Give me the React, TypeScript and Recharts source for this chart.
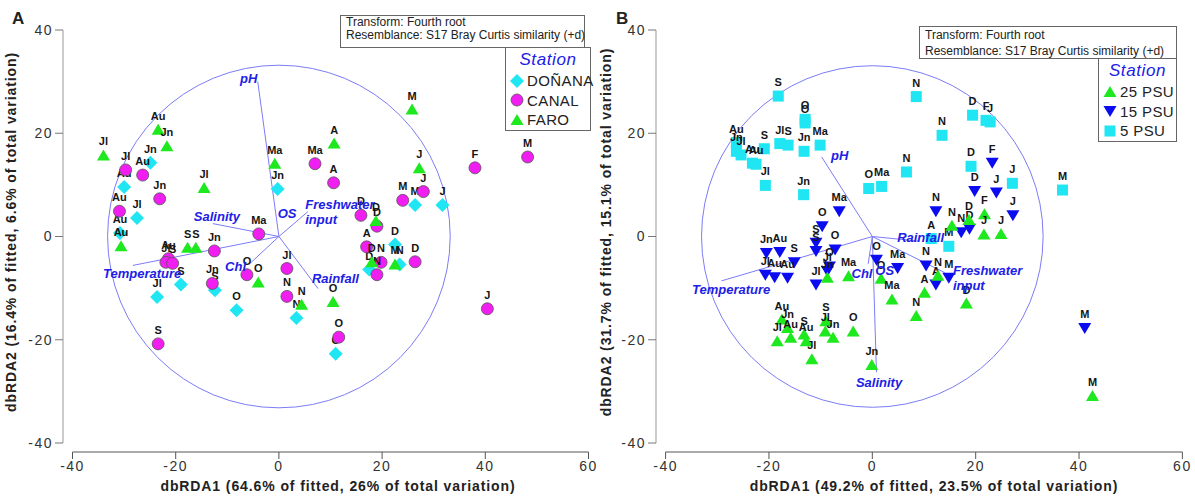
import React from 'react';
import { ScatterChart, Scatter, XAxis, YAxis, ReferenceDot, ReferenceLine } from 'recharts';

const FONT = '"Liberation Sans", Arial, sans-serif';
const CYAN = '#1fe6f2';
const MAGENTA = '#f01ef0';
const GREEN = '#1ee81e';
const BLUE = '#0b0bf0';
const VEC = '#7c7cf7';
const VEC_TEXT = '#2020e6';

const xTicks = [-40, -20, 0, 20, 40, 60];
const yTicks = [-40, -20, 0, 20, 40];

// Panel A : stations
const donana = [
  { x: -24.9, y: 14.3, m: 'Jn' }, { x: -30.0, y: 9.6, m: 'Au' }, { x: -27.5, y: 3.6, m: 'Jl' },
  { x: -30.8, y: 0.7, m: 'Au' }, { x: -0.25, y: 9.2, m: 'Jn' }, { x: -19.0, y: -9.3, m: 'S' },
  { x: -23.6, y: -11.7, m: 'Jl' }, { x: -12.4, y: -10.4, m: 'S' }, { x: -8.2, y: -14.3, m: 'O' },
  { x: 3.4, y: -15.8, m: 'N' }, { x: 26.4, y: 6.1, m: 'M' }, { x: 31.7, y: 6.1, m: 'J' },
  { x: 22.5, y: -1.55, m: 'D' }, { x: 17.5, y: -6.4, m: 'D' }, { x: 23.4, y: -5.4, m: 'N' },
  { x: 11.0, y: -22.7, m: 'O' },
];
const canal = [
  { x: -29.7, y: 12.9, m: 'Jl' }, { x: -26.4, y: 11.9, m: 'Au' }, { x: -23.1, y: 7.3, m: 'Jn' },
  { x: -30.9, y: 4.9, m: 'Au' }, { x: 7.0, y: 14.1, m: 'Ma' }, { x: 10.6, y: 10.4, m: 'A' },
  { x: 28.0, y: 8.7, m: 'J' }, { x: 24.0, y: 7.0, m: 'M' }, { x: 38.0, y: 13.3, m: 'F' },
  { x: 48.2, y: 15.4, m: 'M' }, { x: 15.9, y: 4.1, m: 'D' }, { x: 19.0, y: 2.0, m: 'D' },
  { x: 17.0, y: -2.0, m: 'A' }, { x: 19.8, y: -5.0, m: 'N' }, { x: 19.0, y: -7.4, m: 'N' },
  { x: 26.4, y: -4.9, m: 'D' }, { x: -21.4, y: -4.3, m: 'Au' }, { x: -21.9, y: -5.0, m: 'Jl' },
  { x: -20.6, y: -5.2, m: 'S' }, { x: -12.5, y: -2.8, m: 'Jn' }, { x: -12.9, y: -9.1, m: 'Jn' },
  { x: -3.9, y: 0.5, m: 'Ma' }, { x: -6.2, y: -7.4, m: 'O' }, { x: 1.55, y: -6.2, m: 'Jl' },
  { x: 1.55, y: -11.6, m: 'N' }, { x: 11.6, y: -19.5, m: 'O' }, { x: -23.4, y: -20.8, m: 'S' },
  { x: 40.4, y: -14.0, m: 'J' },
];
const faro = [
  { x: -23.4, y: 20.7, m: 'Au' }, { x: -21.7, y: 17.5, m: 'Jn' }, { x: -34.0, y: 15.7, m: 'Jl' },
  { x: -14.5, y: 9.4, m: 'Jl' }, { x: -0.8, y: 14.1, m: 'Ma' }, { x: -30.6, y: -1.9, m: 'Au' },
  { x: -17.7, y: -2.2, m: 'S' }, { x: -16.1, y: -2.2, m: 'S' }, { x: -4.0, y: -8.9, m: 'O' },
  { x: 4.4, y: -13.2, m: 'N' }, { x: 25.8, y: 24.6, m: 'M' }, { x: 10.7, y: 18.0, m: 'A' },
  { x: 27.2, y: 13.2, m: 'J' }, { x: 18.8, y: 3.0, m: 'D' }, { x: 18.0, y: -5.0, m: 'D' },
  { x: 22.5, y: -5.4, m: 'M' }, { x: 10.5, y: -12.7, m: 'O' },
];

// Panel B : salinity groups
const psu25 = [
  { x: 21.7, y: 4.3, m: 'F' }, { x: 18.7, y: 3.2, m: 'D' }, { x: 15.4, y: 2.1, m: 'N' },
  { x: 21.6, y: 0.4, m: 'J' }, { x: 24.9, y: 0.5, m: 'J' }, { x: 12.7, y: -7.6, m: 'N' },
  { x: 10.1, y: -10.9, m: 'A' }, { x: 18.2, y: -13.0, m: 'D' }, { x: 8.5, y: -15.4, m: 'N' },
  { x: 42.6, y: -30.9, m: 'M' }, { x: -8.7, y: -8.0, m: 'Jn' }, { x: -4.6, y: -7.7, m: 'Ma' },
  { x: 1.7, y: -8.2, m: 'O' }, { x: 3.8, y: -12.2, m: 'Ma' }, { x: -17.5, y: -16.1, m: 'Au' },
  { x: -16.4, y: -17.7, m: 'Jn' }, { x: -15.8, y: -19.6, m: 'Au' }, { x: -18.4, y: -20.3, m: 'Jl' },
  { x: -13.2, y: -19.0, m: 'S' }, { x: -12.8, y: -20.3, m: 'Au' }, { x: -11.7, y: -23.8, m: 'Jl' },
  { x: -9.0, y: -16.4, m: 'S' }, { x: -9.1, y: -18.4, m: 'Jl' }, { x: -7.6, y: -19.6, m: 'Jn' },
  { x: -3.7, y: -18.4, m: 'O' }, { x: -0.1, y: -24.9, m: 'Jn' },
];
const psu15 = [
  { x: -6.4, y: 4.9, m: 'Ma' }, { x: 23.2, y: 14.3, m: 'F' }, { x: 19.8, y: 8.8, m: 'D' },
  { x: 24.0, y: 8.5, m: 'J' }, { x: 27.2, y: 4.1, m: 'J' }, { x: 12.3, y: 4.9, m: 'N' },
  { x: 18.8, y: 1.5, m: 'D' }, { x: 17.2, y: 0.8, m: 'N' }, { x: 10.4, y: -5.6, m: 'N' },
  { x: 14.8, y: -8.0, m: 'M' }, { x: 12.3, y: -9.3, m: 'A' }, { x: 41.1, y: -17.7, m: 'M' },
  { x: 4.9, y: -6.1, m: 'Ma' }, { x: 0.8, y: -4.5, m: 'O' }, { x: -9.7, y: 2.0, m: 'O' },
  { x: -10.9, y: -1.2, m: 'S' }, { x: -10.9, y: -2.8, m: 'S' }, { x: -7.2, y: -2.5, m: 'O' },
  { x: -20.5, y: -3.2, m: 'Jn' }, { x: -17.9, y: -3.0, m: 'Au' }, { x: -15.1, y: -5.0, m: 'S' },
  { x: -20.7, y: -7.4, m: 'Jl' }, { x: -18.9, y: -7.9, m: 'Au' }, { x: -16.4, y: -8.0, m: 'Au' },
  { x: -8.7, y: -6.7, m: 'Jl' }, { x: -8.3, y: -5.8, m: 'O' }, { x: -10.9, y: -9.3, m: 'Jl' },
];
const psu5 = [
  { x: -18.2, y: 27.2, m: 'S' }, { x: -13.0, y: 22.7, m: 'O' }, { x: -13.0, y: 22.0, m: 'O' },
  { x: -17.9, y: 18.0, m: 'Jl' }, { x: -16.3, y: 17.7, m: 'S' }, { x: -13.2, y: 16.5, m: 'Jn' },
  { x: -10.1, y: 17.7, m: 'Ma' }, { x: -20.9, y: 17.0, m: 'S' }, { x: -26.3, y: 18.2, m: 'Au' },
  { x: -26.3, y: 16.5, m: 'Jn' }, { x: -25.4, y: 15.8, m: 'Jl' }, { x: -22.5, y: 14.0, m: 'Au' },
  { x: -23.2, y: 14.2, m: 'Au' }, { x: -20.7, y: 9.9, m: 'Jl' }, { x: -13.3, y: 8.1, m: 'Jn' },
  { x: -0.7, y: 9.3, m: 'O' }, { x: 1.8, y: 9.7, m: 'Ma' }, { x: 6.6, y: 12.5, m: 'N' },
  { x: 8.5, y: 27.1, m: 'N' }, { x: 19.4, y: 23.5, m: 'D' }, { x: 22.0, y: 22.5, m: 'F' },
  { x: 22.8, y: 22.2, m: 'J' }, { x: 13.5, y: 19.6, m: 'N' }, { x: 19.1, y: 13.6, m: 'D' },
  { x: 27.1, y: 10.3, m: 'J' }, { x: 36.8, y: 9.0, m: 'M' }, { x: 11.4, y: -0.4, m: 'A' },
  { x: 14.8, y: -1.9, m: 'M' },
];

// environmental vectors (end points) and their labels
const vectorsA = [
  { x: -4.1, y: 30.0 }, { x: -12.8, y: 2.5 }, { x: -28.3, y: -5.6 },
  { x: -5.8, y: -5.4 }, { x: 5.6, y: 4.8 }, { x: 7.6, y: -10.1 },
];
const vecLabelsA = [
  { x: -5.85, y: 30.7, t: 'pH', a: 'middle' },
  { x: -12.0, y: 3.8, t: 'Salinity', a: 'middle' },
  { x: -26.5, y: -7.2, t: 'Temperature', a: 'middle' },
  { x: -8.4, y: -5.75, t: 'Chl', a: 'middle' },
  { x: 1.6, y: 4.5, t: 'OS', a: 'middle' },
  { x: 5.1, y: 6.2, t: 'Freshwater', t2: 'input', a: 'start' },
  { x: 6.4, y: -8.2, t: 'Rainfall', a: 'start' },
];
const vectorsB = [
  { x: -9.8, y: 15.4 }, { x: -29.2, y: -8.6 }, { x: 0.8, y: -26.3 },
  { x: -0.8, y: -5.3 }, { x: 9.0, y: -0.9 }, { x: 14.0, y: -7.0 },
];
const vecLabelsB = [
  { x: -6.3, y: 15.7, t: 'pH', a: 'middle' },
  { x: -27.3, y: -10.3, t: 'Temperature', a: 'middle' },
  { x: 1.3, y: -28.2, t: 'Salinity', a: 'middle' },
  { x: -2.0, y: -7.2, t: 'Chl', a: 'middle' },
  { x: 2.4, y: -6.5, t: 'OS', a: 'middle' },
  { x: 4.8, y: -0.25, t: 'Rainfall', a: 'start' },
  { x: 15.6, y: -6.5, t: 'Freshwater', t2: 'input', a: 'start' },
];

const PX = 5.16; // pixels per data unit on both axes

const Tag = ({ cx, cy, m }: any) => (
  <text x={cx} y={cy - 10} textAnchor="middle" fontSize={11} fontWeight="bold" fill="#151515" fontFamily={FONT}>
    {m}
  </text>
);

const diamond = (p: any) => (
  <g>
    <path d={`M${p.cx},${p.cy - 7}L${p.cx + 7},${p.cy}L${p.cx},${p.cy + 7}L${p.cx - 7},${p.cy}Z`} fill={CYAN} />
    <Tag cx={p.cx} cy={p.cy} m={p.payload.m} />
  </g>
);
const circle = (p: any) => (
  <g>
    <circle cx={p.cx} cy={p.cy} r={6} fill={MAGENTA} stroke="#555" strokeWidth={0.8} />
    <Tag cx={p.cx} cy={p.cy} m={p.payload.m} />
  </g>
);
const triUp = (fill: string) => (p: any) => (
  <g>
    <path d={`M${p.cx},${p.cy - 6}L${p.cx + 6.5},${p.cy + 5}L${p.cx - 6.5},${p.cy + 5}Z`} fill={fill} />
    <Tag cx={p.cx} cy={p.cy} m={p.payload.m} />
  </g>
);
const triDown = (p: any) => (
  <g>
    <path d={`M${p.cx - 6.5},${p.cy - 5}L${p.cx + 6.5},${p.cy - 5}L${p.cx},${p.cy + 6}Z`} fill={BLUE} />
    <Tag cx={p.cx} cy={p.cy} m={p.payload.m} />
  </g>
);
const square = (p: any) => (
  <g>
    <rect x={p.cx - 5.5} y={p.cy - 5.5} width={11} height={11} fill={CYAN} />
    <Tag cx={p.cx} cy={p.cy} m={p.payload.m} />
  </g>
);
const vecText = (p: any) => {
  const d = p.payload;
  const style = { fontSize: 13, fontWeight: 'bold' as const, fontStyle: 'italic', fill: VEC_TEXT, fontFamily: FONT };
  return (
    <g>
      <text x={p.cx} y={p.cy + 4.5} textAnchor={d.a} style={style}>{d.t}</text>
      {d.t2 && <text x={p.cx} y={p.cy + 19.5} textAnchor={d.a} style={style}>{d.t2}</text>}
    </g>
  );
};

const tickStyle = { fontSize: 14, fill: '#333', fontFamily: FONT, letterSpacing: 1.5 };

interface PanelProps {
  left: number;
  width: number;
  yAxisWidth: number;
  padLeft: number;
  right: number;
  radius: number;
  series: { data: any[]; shape: any }[];
  vectors: { x: number; y: number }[];
  vecLabels: any[];
}

const Panel: React.FC<PanelProps> = ({ left, width, yAxisWidth, padLeft, right, radius, series, vectors, vecLabels }) => {
  const axisX = -40 - padLeft / PX;
  const axisY = -40 - 9 / PX;
  return (
    <div style={{ position: 'absolute', left, top: 0 }}>
      <ScatterChart width={width} height={497} margin={{ top: 30, right, bottom: 0, left: 0 }}>
        <XAxis type="number" dataKey="x" domain={[-40, 60]} ticks={xTicks} padding={{ left: padLeft, right: 0 }}
          height={45} axisLine={false} tickSize={7} tickLine={{ stroke: '#555' }} tick={tickStyle} allowDataOverflow />
        <YAxis type="number" dataKey="y" domain={[-40, 40]} ticks={yTicks} padding={{ top: 0, bottom: 9 }}
          width={yAxisWidth} axisLine={false} tickSize={8} tickLine={{ stroke: '#777' }} tick={tickStyle} allowDataOverflow />
        <ReferenceLine segment={[{ x: -40, y: axisY }, { x: 60, y: axisY }]} stroke="#555" ifOverflow="visible" />
        <ReferenceLine segment={[{ x: axisX, y: -40 }, { x: axisX, y: 40 }]} stroke="#999" ifOverflow="visible" />
        <ReferenceDot x={0} y={0} r={radius * PX} fill="none" stroke={VEC} strokeWidth={1} />
        {vectors.map((v, i) => (
          <ReferenceLine key={i} segment={[{ x: 0, y: 0 }, { x: v.x, y: v.y }]} stroke={VEC} strokeWidth={1} />
        ))}
        {series.map((s, i) => (
          <Scatter key={i} data={s.data} shape={s.shape} isAnimationActive={false} />
        ))}
        <Scatter data={vecLabels} shape={vecText} isAnimationActive={false} />
      </ScatterChart>
    </div>
  );
};

const boxText: React.CSSProperties = { fontFamily: FONT, fontSize: 12, color: '#222', whiteSpace: 'nowrap' };

const InfoBox = ({ left, top, width, height, lh }: any) => (
  <div style={{ position: 'absolute', left, top, width, height, border: '1px solid #666', boxSizing: 'border-box', background: '#fff', padding: '0 0 0 5px', ...boxText, lineHeight: `${lh}px` }}>
    <div>Transform: Fourth root</div>
    <div>Resemblance: S17 Bray Curtis similarity (+d)</div>
  </div>
);

const LegendBox = ({ left, top, width, height, items }: any) => (
  <div style={{ position: 'absolute', left, top, width, height, border: '1px solid #666', boxSizing: 'border-box', background: '#fff', fontFamily: FONT }}>
    <div style={{ textAlign: 'center', fontSize: 17, fontStyle: 'italic', color: VEC_TEXT, letterSpacing: 0.6, lineHeight: '22px', marginTop: 1 }}>Station</div>
    {items.map((it: any, i: number) => (
      <div key={i} style={{ display: 'flex', alignItems: 'center', height: 19.5, whiteSpace: 'nowrap' }}>
        <svg width={20} height={16} style={{ marginLeft: 1, flexShrink: 0 }}>{it.icon}</svg>
        <span style={{ fontSize: 15, color: '#222', letterSpacing: 0.4, flexShrink: 0 }}>{it.label}</span>
      </div>
    ))}
  </div>
);

const titleStyle: React.CSSProperties = { position: 'absolute', fontFamily: FONT, fontWeight: 'bold', fontSize: 14, letterSpacing: 0.9, color: '#222', whiteSpace: 'nowrap', lineHeight: '17px' };

export default function App() {
  return (
    <div style={{ position: 'absolute', left: 0, top: 0, width: 1195, height: 497, background: '#fff', overflow: 'hidden' }}>
      <Panel left={0} width={597} yAxisWidth={63} padLeft={9.5} right={8.5} radius={33.2}
        series={[{ data: donana, shape: diamond }, { data: canal, shape: circle }, { data: faro, shape: triUp(GREEN) }]}
        vectors={vectorsA} vecLabels={vecLabelsA} />
      <Panel left={597} width={598} yAxisWidth={59} padLeft={9.6} right={12.6} radius={33.1}
        series={[{ data: psu5, shape: square }, { data: psu15, shape: triDown }, { data: psu25, shape: triUp(GREEN) }]}
        vectors={vectorsB} vecLabels={vecLabelsB} />

      <div style={{ ...titleStyle, fontSize: 17, left: 12, top: 10 }}>A</div>
      <div style={{ ...titleStyle, fontSize: 17, left: 616, top: 10 }}>B</div>

      <div style={{ ...titleStyle, left: 338, top: 478, transform: 'translateX(-50%)' }}>dbRDA1 (64.6% of fitted, 26% of total variation)</div>
      <div style={{ ...titleStyle, left: 934, top: 478, transform: 'translateX(-50%)' }}>dbRDA1 (49.2% of fitted, 23.5% of total variation)</div>
      <div style={{ ...titleStyle, left: 11, top: 232, transform: 'translate(-50%,-50%) rotate(-90deg)' }}>dbRDA2 (16.4% of fitted, 6.6% of total variation)</div>
      <div style={{ ...titleStyle, left: 606, top: 232, transform: 'translate(-50%,-50%) rotate(-90deg)' }}>dbRDA2 (31.7% of fitted, 15.1% of total variation)</div>

      <InfoBox left={340} top={15} width={245} height={33} lh={13} />
      <LegendBox left={505} top={47} width={86} height={84}
        items={[
          { label: 'DOÑANA', icon: <path d="M10,1L17,8L10,15L3,8Z" fill={CYAN} /> },
          { label: 'CANAL', icon: <circle cx={10} cy={8} r={6} fill={MAGENTA} stroke="#555" strokeWidth={0.8} /> },
          { label: 'FARO', icon: <path d="M10,2L16.5,13L3.5,13Z" fill={GREEN} /> },
        ]} />
      <InfoBox left={919} top={26} width={258} height={33} lh={16} />
      <LegendBox left={1098} top={58} width={79} height={84}
        items={[
          { label: '25 PSU', icon: <path d="M10,2L16.5,13L3.5,13Z" fill={GREEN} /> },
          { label: '15 PSU', icon: <path d="M3.5,3L16.5,3L10,14Z" fill={BLUE} /> },
          { label: '5 PSU', icon: <rect x={4.5} y={2.5} width={11} height={11} fill={CYAN} /> },
        ]} />
    </div>
  );
}
